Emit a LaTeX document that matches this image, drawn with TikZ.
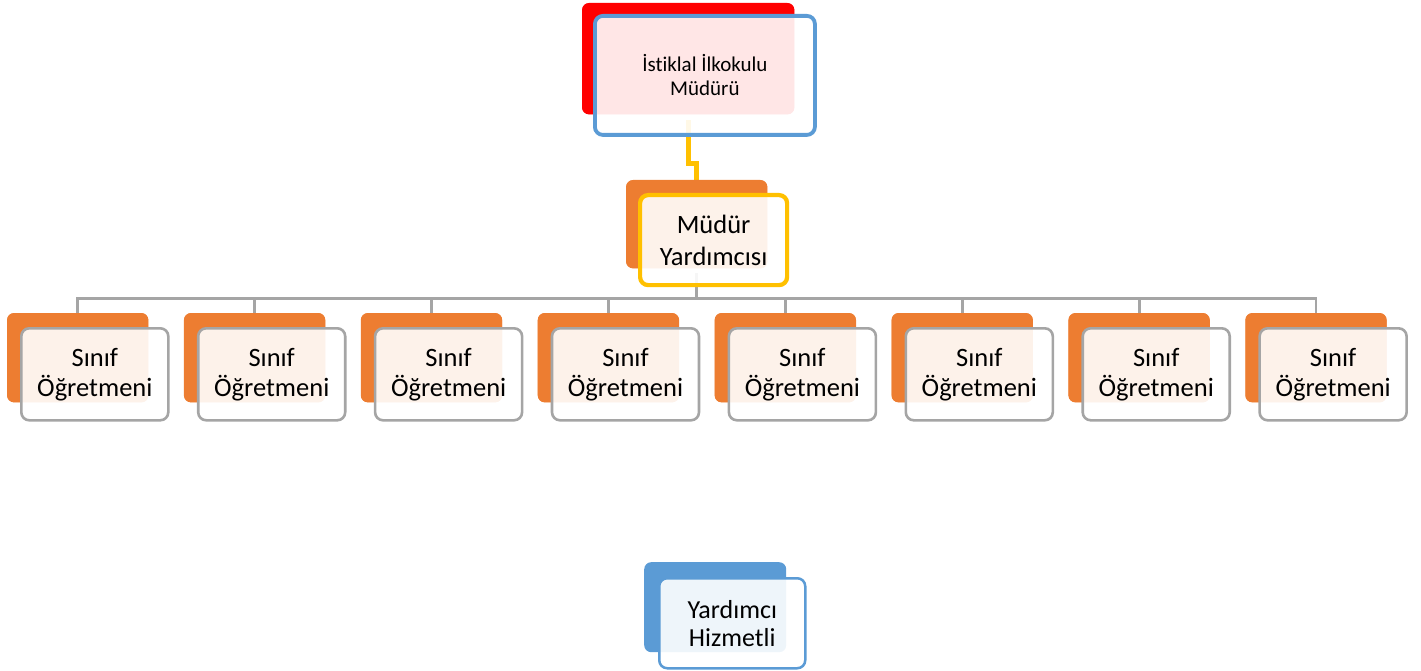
\documentclass[tikz,border=0pt]{standalone}
\usepackage{fontspec}
\setmainfont[Ligatures=NoCommon]{Carlito}
\usetikzlibrary{calc}
\definecolor{cred}{HTML}{FF0000}
\definecolor{cblue}{HTML}{5B9BD5}
\definecolor{corange}{HTML}{ED7D31}
\definecolor{cyellow}{HTML}{FFC000}
\definecolor{cgrey}{HTML}{A5A5A5}
\tikzset{
  backbox/.style={rectangle, rounded corners=7pt, inner sep=0pt, anchor=north west},
  frontbox/.style={rectangle, rounded corners=8pt, inner sep=0pt, anchor=north west, fill=white, fill opacity=0.9, text opacity=1, align=center},
  gconn/.style={draw=cgrey, line width=2.8pt},
  yconn/.style={draw=cyellow, line width=5pt},
  sinif/.style={frontbox, draw=cgrey, line width=2.6pt, minimum width=147pt, minimum height=92pt, font=\fontsize{26.5}{30}\selectfont},
  sinifback/.style={backbox, fill=corange, minimum width=141pt, minimum height=89pt}
}
\begin{document}
\begin{tikzpicture}[x=1pt,y=-1pt]
\useasboundingbox (0,0) rectangle (1421,671);
% back boxes and nodes
\node[backbox, fill=cred, minimum width=212pt, minimum height=111pt] (topb) at (582,3) {};
\node[backbox, fill=corange, minimum width=141pt, minimum height=88pt] (midb) at (626,180) {};
\foreach \i in {0,...,7}{
  \node[sinifback] (b\i) at ({7+\i*176.9},313) {};
}
\node[backbox, fill=cblue, minimum width=142pt, minimum height=90pt] (botb) at (644,562) {};
% connectors
\draw[yconn] ($(topb.south)+(0,6)$) -- ($(topb.south)+(0,49)$) -| (midb.north);
\foreach \i in {0,...,7}{
  \draw[gconn] ($(midb.south)+(0,5)$) -- ($(midb.south)+(0,30)$) -| (b\i.north);
}
% redraw back boxes over connectors
\fill[cred, rounded corners=7pt] (topb.north west) rectangle (topb.south east);
\fill[corange, rounded corners=7pt] (midb.north west) rectangle (midb.south east);
\foreach \i in {0,...,7}{
  \fill[corange, rounded corners=7pt] (b\i.north west) rectangle (b\i.south east);
}
% front boxes
\node[frontbox, draw=cblue, line width=3.8pt, minimum width=220pt, minimum height=119pt, font=\fontsize{21}{24}\selectfont] (top) at (593,14) {İstiklal İlkokulu\\Müdürü};
\node[frontbox, draw=cyellow, line width=4.2pt, minimum width=147pt, minimum height=90pt, font=\fontsize{26.5}{32}\selectfont] (mid) at (638,193) {Müdür\\Yardımcısı};
\foreach \i in {0,...,7}{
  \node[sinif] (s\i) at ({20+\i*176.9},327) {Sınıf\\Öğretmeni};
}
\node[frontbox, draw=cblue, line width=2.5pt, minimum width=146pt, minimum height=90pt, font=\fontsize{26}{28}\selectfont] (bot) at (658,577) {Yardımcı\\Hizmetli};
\end{tikzpicture}
\end{document}
